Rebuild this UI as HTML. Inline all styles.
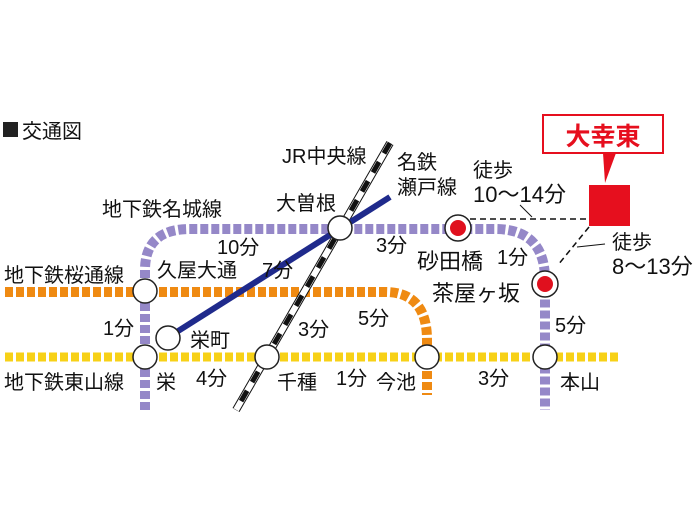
<!DOCTYPE html>
<html><head><meta charset="utf-8"><style>
body{margin:0;background:#fff;}
svg text{font-family:"Liberation Sans","Noto Sans CJK JP",sans-serif;fill:#111;}
</style></head><body>
<svg width="700" height="525" viewBox="0 0 700 525" xmlns="http://www.w3.org/2000/svg">
<rect width="700" height="525" fill="#fff"/>
<path d="M5 292 H385 Q427 292 427 340 V395" fill="none" stroke="#ef8a12" stroke-width="10" stroke-dasharray="8 3"/>
<path d="M5 357 H618" fill="none" stroke="#f7d117" stroke-width="9" stroke-dasharray="8 3"/>
<path d="M145 410 V270 Q145 229 190 229 H495 Q545 229 545 280 V410" fill="none" stroke="#9588c8" stroke-width="10" stroke-dasharray="8 3"/>
<line x1="390" y1="143" x2="236" y2="410" stroke="#111" stroke-width="8"/>
<line x1="390" y1="143" x2="236" y2="410" stroke="#fff" stroke-width="6"/>
<line x1="390" y1="143" x2="236" y2="410" stroke="#111" stroke-width="5" stroke-dasharray="12 10"/>
<line x1="175" y1="333" x2="390" y2="197" stroke="#1f2a8c" stroke-width="6"/>
<path d="M470 219 H590" stroke="#111" stroke-width="1.5" stroke-dasharray="6 4" fill="none"/>
<path d="M589 227 L558 265" stroke="#111" stroke-width="1.5" stroke-dasharray="6 4" fill="none"/>
<path d="M520 205 L532 217" stroke="#111" stroke-width="1"/>
<path d="M577 247 L605 244" stroke="#111" stroke-width="1"/>
<g fill="#fff" stroke="#222" stroke-width="1.5">
<circle cx="340" cy="228" r="12"/>
<circle cx="145" cy="291" r="12"/>
<circle cx="168" cy="338" r="12"/>
<circle cx="145" cy="357" r="12"/>
<circle cx="267" cy="357" r="12"/>
<circle cx="427" cy="357" r="12"/>
<circle cx="545" cy="357" r="12"/>
<circle cx="458" cy="228" r="13"/>
<circle cx="545" cy="284" r="13"/>
</g>
<circle cx="458" cy="228" r="8" fill="#e0101e"/>
<circle cx="545" cy="284" r="8" fill="#e0101e"/>
<rect x="589" y="185" width="41" height="41" fill="#e60f1e"/>
<polygon points="603,153 616,153 605,183" fill="#e60f1e"/>
<rect x="543" y="115" width="120" height="38" fill="#fff" stroke="#e60f1e" stroke-width="2"/>
<text x="603" y="145" font-size="25" font-weight="bold" text-anchor="middle" style="fill:#e60f1e">大幸東</text>
<rect x="3" y="122" width="15" height="15" fill="#222"/>
<g font-size="20">
<text x="22" y="138">交通図</text>
<text x="282" y="163">JR中央線</text>
<text x="397" y="169">名鉄</text>
<text x="397" y="194">瀬戸線</text>
<text x="473" y="177">徒歩</text>
<text x="473" y="202" font-size="22">10～14分</text>
<text x="612" y="249">徒歩</text>
<text x="612" y="274" font-size="22">8～13分</text>
<text x="102" y="216">地下鉄名城線</text>
<text x="276" y="210">大曽根</text>
<text x="217" y="254">10分</text>
<text x="376" y="252">3分</text>
<text x="417" y="269" font-size="22">砂田橋</text>
<text x="497" y="264">1分</text>
<text x="432" y="301" font-size="22">茶屋ヶ坂</text>
<text x="4" y="282">地下鉄桜通線</text>
<text x="157" y="277">久屋大通</text>
<text x="262" y="277">7分</text>
<text x="103" y="335">1分</text>
<text x="190" y="347">栄町</text>
<text x="298" y="336">3分</text>
<text x="358" y="325">5分</text>
<text x="555" y="332">5分</text>
<text x="4" y="389">地下鉄東山線</text>
<text x="156" y="389">栄</text>
<text x="196" y="385">4分</text>
<text x="277" y="389">千種</text>
<text x="336" y="385">1分</text>
<text x="376" y="389">今池</text>
<text x="478" y="385">3分</text>
<text x="560" y="389">本山</text>
</g>
</svg>
</body></html>
